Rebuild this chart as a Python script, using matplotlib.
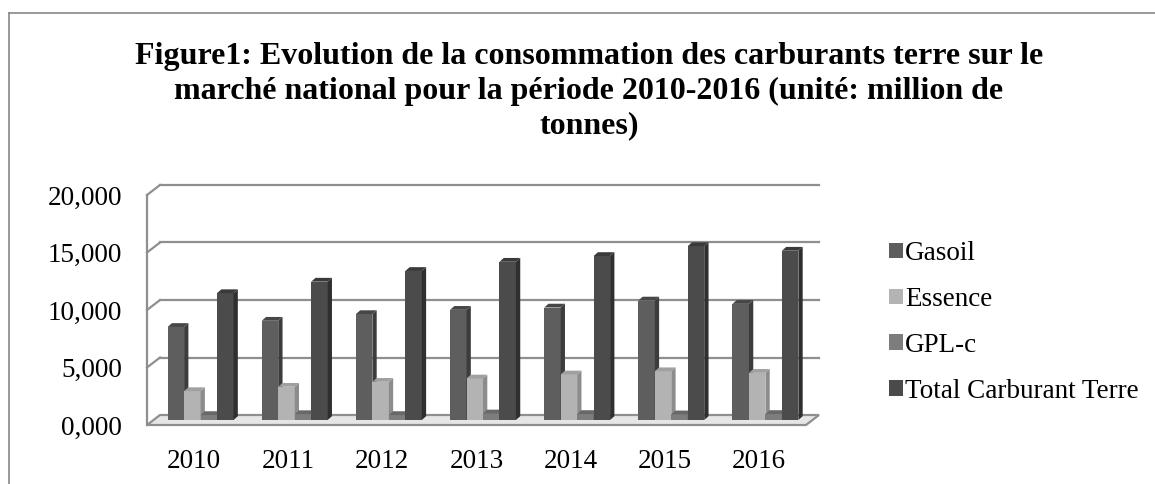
import matplotlib
matplotlib.use("Agg")
import matplotlib.pyplot as plt
from matplotlib.patches import Polygon
from matplotlib.lines import Line2D
from matplotlib.transforms import offset_copy, IdentityTransform
import numpy as np

plt.rcParams['font.family'] = ['Liberation Serif', 'DejaVu Serif']

# data (million de tonnes)
years = ['2010', '2011', '2012', '2013', '2014', '2015', '2016']
gasoil = [8.09, 8.63, 9.21, 9.58, 9.78, 10.39, 10.10]
essence = [2.51, 2.89, 3.32, 3.61, 3.96, 4.24, 4.10]
gpl = [0.43, 0.51, 0.43, 0.57, 0.52, 0.49, 0.52]
total = [11.03, 12.03, 12.96, 13.76, 14.26, 15.12, 14.72]
series_names = ['Gasoil', 'Essence', 'GPL-c', 'Total Carburant Terre']
yticks = [0, 5, 10, 15, 20]

# front / side / top colours per series
front_cols = ['#5e5e5e', '#b3b3b3', '#7d7d7d', '#4b4b4b']
side_cols = ['#3c3c3c', '#8c8c8c', '#5a5a5a', '#2f2f2f']
top_cols = ['#474747', '#a0a0a0', '#686868', '#3a3a3a']

W, H = 1155, 484
fig = plt.figure(figsize=(W / 100, H / 100), dpi=100)
ax = fig.add_axes([147 / W, (H - 425) / H, 659 / W, 230 / H])
ax.set_xlim(-0.5, len(years) - 0.5)
ax.set_ylim(0, 20)
for s in ax.spines.values():
    s.set_visible(False)
ax.set_xticks(range(len(years)))
ax.set_xticklabels(years)
ax.set_yticks(yticks)
ax.set_yticklabels([f"{v:.3f}".replace('.', ',') for v in yticks])
ax.tick_params(length=0, labelsize=19.5)
ax.tick_params(axis='y', pad=18)
ax.tick_params(axis='x', pad=17.5)

DX, DY = 13, 10        # wall depth in pixels
BX, BY = 4.3, 3.8      # bar depth in pixels
grid_c = '#8f8f8f'

# back wall gridlines and side wall diagonals
back = offset_copy(ax.get_yaxis_transform(), fig, x=DX, y=DY, units='dots')
to_disp = ax.get_yaxis_transform().transform
for v in yticks:
    if v == 0:
        continue
    ax.plot([0, 1], [v, v], transform=back, color=grid_c, lw=1.6, clip_on=False, zorder=1)
    p0 = to_disp((0, v))
    ax.add_line(Line2D([p0[0], p0[0] + DX], [p0[1], p0[1] + DY], transform=IdentityTransform(),
                       color=grid_c, lw=1.6, clip_on=False, zorder=1))
# front left edge of side wall
l0 = to_disp((0, 0)); l1 = to_disp((0, 20))
ax.add_line(Line2D([l0[0], l1[0]], [l0[1], l1[1]], transform=IdentityTransform(),
                   color=grid_c, lw=1.6, clip_on=False, zorder=1))

# floor
f0 = to_disp((0, 0)); f1 = to_disp((1, 0))
floor = Polygon([f0, f1, (f1[0] + DX, f1[1] + DY), (f0[0] + DX, f0[1] + DY)],
                closed=True, transform=IdentityTransform(), facecolor='#e6e6e6',
                edgecolor=grid_c, lw=1.6, clip_on=False, zorder=1)
ax.add_patch(floor)

# bars, drawn at half depth
bar_tr = offset_copy(ax.transData, fig, x=DX / 2, y=DY / 2, units='dots')
width = 0.175
x = np.arange(len(years))
series = [gasoil, essence, gpl, total]
z = 2
for i in range(len(years)):
    for k, vals in enumerate(series):
        xpos = x[i] + (k - 1.5) * width
        bars = ax.bar(xpos, vals[i], width, color=front_cols[k], transform=bar_tr,
                      clip_on=False, zorder=z, label=series_names[k] if i == 0 else None)
        b = bars[0]
        (xa, ya) = bar_tr.transform((b.get_x(), 0))
        (xb, yb) = bar_tr.transform((b.get_x() + b.get_width(), b.get_height()))
        side = Polygon([(xb, ya), (xb, yb), (xb + BX, yb + BY), (xb + BX, ya + BY)],
                       transform=IdentityTransform(), facecolor=side_cols[k], lw=0,
                       clip_on=False, zorder=z)
        top = Polygon([(xa, yb), (xb, yb), (xb + BX, yb + BY), (xa + BX, yb + BY)],
                      transform=IdentityTransform(), facecolor=top_cols[k], lw=0,
                      clip_on=False, zorder=z)
        ax.add_patch(side)
        ax.add_patch(top)
        z += 0.01

# legend
handles, labels = ax.get_legend_handles_labels()
fig.legend(handles, labels, loc='upper left', bbox_to_anchor=(889 / W, 1 - 241 / H),
           frameon=False, fontsize=19.5, handlelength=0.5, handleheight=0.5,
           handletextpad=0.1, labelspacing=0.77, borderpad=0, borderaxespad=0)

# title
fig.text(589 / W, 1 - 42 / H,
         "Figure1: Evolution de la consommation des carburants terre sur le\n"
         "marché national pour la période 2010-2016 (unité: million de\n"
         "tonnes)",
         ha='center', va='top', fontsize=23, fontweight='bold', linespacing=1.25)

# outer frame
fig.add_artist(Line2D([9 / W, 1], [1 - 13 / H, 1 - 13 / H], color='#888888', lw=1.2))
fig.add_artist(Line2D([9 / W, 9 / W], [0, 1 - 13 / H], color='#888888', lw=1.2))

fig.savefig('out.png', dpi=100)
